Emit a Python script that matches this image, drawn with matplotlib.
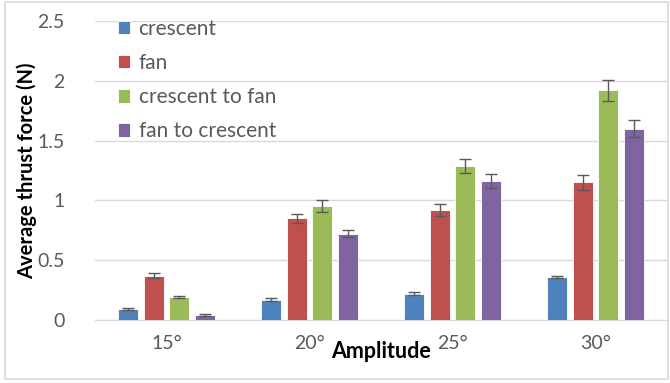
import numpy as np
import matplotlib
matplotlib.use("Agg")
import matplotlib.pyplot as plt
from matplotlib.patches import Rectangle

amplitudes = ["15°", "20°", "25°", "30°"]
series = ["crescent", "fan", "crescent to fan", "fan to crescent"]
colors = ["#4F81BD", "#C0504D", "#9BBB59", "#8064A2"]

crescent = [0.09, 0.17, 0.22, 0.36]
fan = [0.37, 0.85, 0.92, 1.15]
crescent_to_fan = [0.19, 0.95, 1.29, 1.92]
fan_to_crescent = [0.04, 0.72, 1.16, 1.60]

crescent_err = [0.01, 0.01, 0.01, 0.01]
fan_err = [0.02, 0.04, 0.05, 0.06]
crescent_to_fan_err = [0.01, 0.05, 0.06, 0.09]
fan_to_crescent_err = [0.01, 0.03, 0.06, 0.07]

values = [crescent, fan, crescent_to_fan, fan_to_crescent]
errors = [crescent_err, fan_err, crescent_to_fan_err, fan_to_crescent_err]

plt.rcParams['font.family'] = ['Lato', 'DejaVu Sans']

fig = plt.figure(figsize=(6.7, 3.83), dpi=100)
ax = fig.add_axes([0.142, 0.1645, 0.8535, 0.7805])

x = np.arange(len(amplitudes))
width = 0.14
step = 0.18
for i in range(len(series)):
    pos = x + (i - 1.5) * step
    ax.bar(pos, values[i], width, color=colors[i], label=series[i],
           edgecolor="white", linewidth=0.6, zorder=3)
    ax.errorbar(pos, values[i], yerr=errors[i], fmt="none", ecolor="#595959",
                elinewidth=1, capsize=4, capthick=1, zorder=4)

ax.set_xlim(-0.5, 3.5)
ax.set_ylim(0, 2.5)
ax.set_yticks([0, 0.5, 1, 1.5, 2, 2.5])
ax.set_yticklabels(["0", "0.5", "1", "1.5", "2", "2.5"])
ax.set_xticks(x)
ax.set_xticklabels(amplitudes)
ax.grid(axis="y", color="#D9D9D9", linewidth=1, zorder=0)
for s in ["top", "right", "left"]:
    ax.spines[s].set_visible(False)
ax.spines["bottom"].set_color("#D9D9D9")
ax.tick_params(axis="both", length=0, labelsize=14, colors="#595959")
ax.tick_params(axis="x", pad=11)
ax.tick_params(axis="y", pad=22)

ax.set_ylabel("Average thrust force (N)", fontsize=14.5, fontweight="bold", labelpad=0)
ax.set_xlabel("Amplitude", fontsize=15.5, fontweight="bold", labelpad=-8)

leg = ax.legend(loc="upper left", bbox_to_anchor=(0.025, 1.035), frameon=False,
                fontsize=15, handlelength=0.6, handleheight=0.6,
                handletextpad=0.4, labelspacing=0.68, labelcolor="#595959",
                borderaxespad=0)

fig.patches.append(Rectangle((0.007, 0.01), 0.99, 0.985, transform=fig.transFigure,
                             fill=False, edgecolor="#D9D9D9", linewidth=1.2))

fig.savefig("out.png", dpi=100)
